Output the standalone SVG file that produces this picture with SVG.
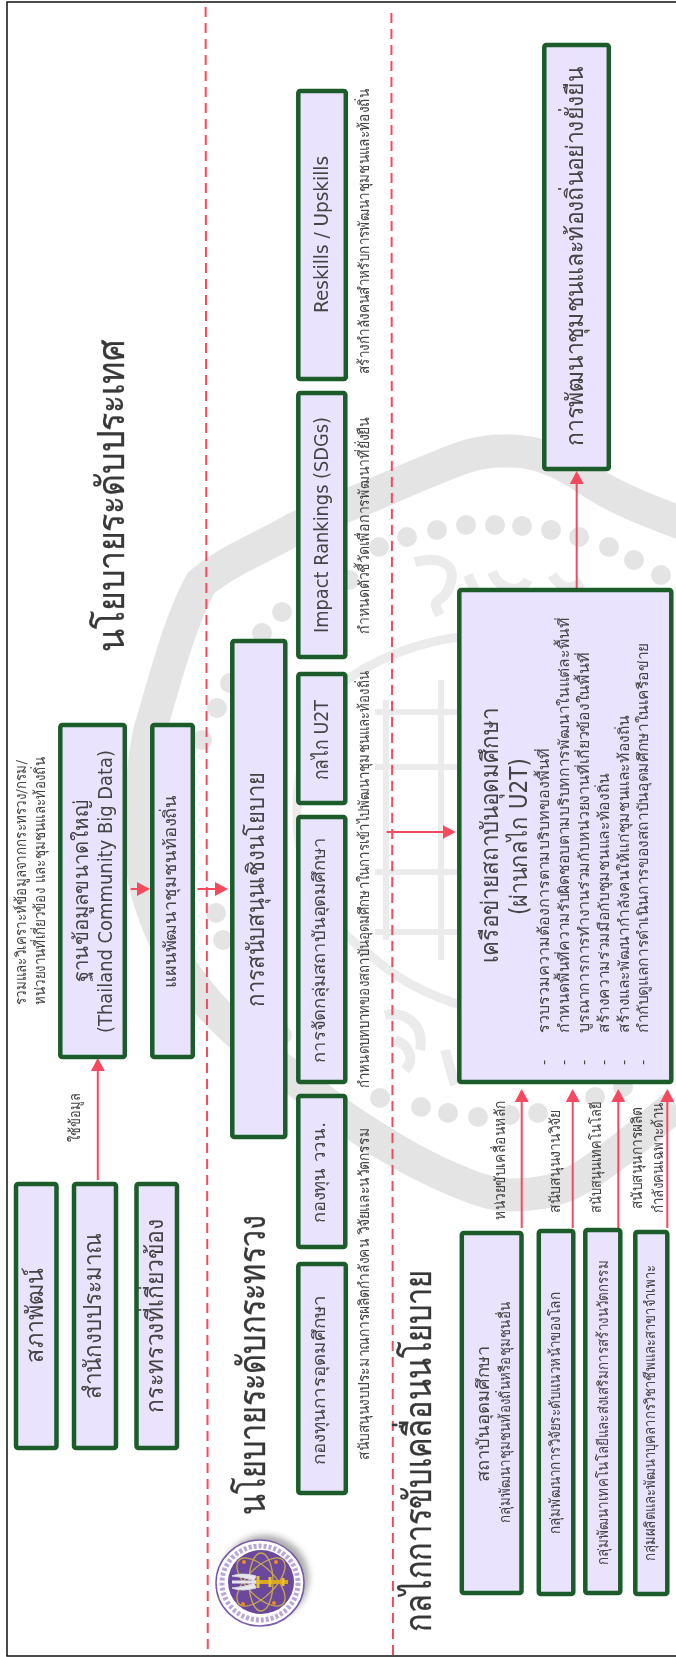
<svg xmlns="http://www.w3.org/2000/svg" width="676" height="1657" viewBox="0 0 676 1657">
<style>
text{font-family:"DejaVu Sans","Noto Sans","Liberation Sans",sans-serif;fill:#444}
.h{font-size:38px;fill:#383838;stroke:#383838;stroke-width:.3}.b{font-size:24px}.m{font-size:20px}.s{font-size:17px}.l{font-size:14.500px}
.box{fill:#e9e3fd;stroke:#1a5c2a;stroke-width:4.500}
.dash{stroke:#f64a5f;stroke-width:2;stroke-dasharray:10 6;fill:none}
.arr{stroke:#f64a5f;stroke-width:2;fill:none;marker-end:url(#ah)}
.wm{fill:none;stroke:#e4e4e4}
.wl{fill:none;stroke:#ebebeb}
.dot{fill:#e4e4e4}
</style>
<defs>
<marker id="ah" markerUnits="userSpaceOnUse" markerWidth="14" markerHeight="14" refX="11" refY="7" orient="auto"><path d="M0 0L13 7L0 14Z" fill="#f64a5f"/></marker>
<filter id="sh" x="-30%" y="-30%" width="160%" height="160%"><feGaussianBlur stdDeviation="3"/></filter>
<filter id="soft" x="0" y="0" width="100%" height="100%" filterUnits="userSpaceOnUse"><feGaussianBlur stdDeviation="0.400"/></filter>
</defs>
<rect width="676" height="1657" fill="#fff"/>
<g filter="url(#soft)">
<g id="watermark">
<path class="wm" stroke-width="33" d="M700 530C660 515 615 500 581 475C555 458 530 450 506 451C480 450 460 458 439 467C410 478 390 488 368 497C330 512 305 522 280 537C245 555 222 565 201 583C180 620 165 680 150 730C143 760 141 800 141 830C141 860 142 875 148 895C160 935 175 965 205 1000C240 1040 290 1075 345 1118C385 1145 410 1160 439 1173C470 1187 490 1195 510 1195C540 1195 560 1190 581 1178C610 1160 640 1135 676 1105"/>
<g class="dot">
<circle cx="661" cy="575" r="10"/><circle cx="634" cy="560" r="10"/><circle cx="609" cy="547" r="10"/><circle cx="579" cy="537" r="10"/><circle cx="551" cy="530" r="10"/><circle cx="522" cy="526" r="10"/><circle cx="495" cy="525" r="10"/><circle cx="466" cy="525" r="10"/><circle cx="437" cy="530" r="10"/><circle cx="407" cy="537" r="10"/><circle cx="379" cy="547" r="10"/><circle cx="349" cy="580" r="10"/><circle cx="311" cy="600" r="10"/><circle cx="282" cy="612" r="10"/><circle cx="262" cy="633" r="10"/><circle cx="230" cy="683" r="10"/><circle cx="217" cy="708" r="10"/><circle cx="202" cy="740" r="10"/><circle cx="216" cy="913" r="10"/><circle cx="223" cy="940" r="10"/><circle cx="245" cy="990" r="10"/><circle cx="282" cy="1035" r="10"/><circle cx="380" cy="1098" r="10"/><circle cx="421" cy="1107" r="10"/><circle cx="448" cy="1113" r="10"/><circle cx="478" cy="1117" r="10"/><circle cx="510" cy="1115" r="10"/><circle cx="538" cy="1113" r="10"/><circle cx="595" cy="1097" r="10"/><circle cx="623" cy="1087" r="10"/>
</g>
<path class="wl" stroke-width="9" d="M470 636C420 640 370 660 333 690C305 725 290 790 300 850C312 900 335 930 368 953C395 978 425 995 470 1008"/>
<path class="wl" stroke-width="6" d="M441 680V960M386 700V940M375 712H470M375 767H470M375 872H470M375 932H470"/>
<path class="wl" stroke-width="10" d="M415 562C440 555 458 565 450 585C445 605 428 595 440 615M468 575L490 625M492 572C500 590 520 595 528 580M552 575C562 590 572 590 582 582M385 1015C405 1010 425 1025 420 1050M395 1040C410 1045 415 1060 405 1070M445 1050L455 1085"/>
</g>
<rect id="frame" x="7" y="2" width="680" height="1654" fill="none" stroke="#111" stroke-width="1.500"/>
<g id="separators">
<line class="dash" x1="205.600" y1="7" x2="207.800" y2="1650"/>
<line class="dash" x1="391.400" y1="13" x2="393" y2="1656"/>
</g>
<g id="connectors">
<line class="arr" x1="576.700" y1="588" x2="576.700" y2="473"/>
<line class="arr" x1="386.600" y1="832" x2="453.600" y2="832"/>
<line class="arr" x1="97.800" y1="1180" x2="97.800" y2="1060"/>
<line class="arr" x1="130.600" y1="889" x2="148" y2="889"/>
<line class="arr" x1="197.400" y1="889" x2="226" y2="889"/>
<line class="arr" x1="521.700" y1="1228" x2="521.700" y2="1091"/>
<line class="arr" x1="572.700" y1="1228" x2="572.700" y2="1091"/>
<line class="arr" x1="618.300" y1="1228" x2="618.300" y2="1091"/>
<line class="arr" x1="667.300" y1="1228" x2="667.300" y2="1091"/>
</g>
<g id="titles">
<text class="h" transform="translate(124,652) rotate(-90)" textLength="312" lengthAdjust="spacingAndGlyphs">นโยบายระดับประเทศ</text>
<text class="h" transform="translate(265,1515) rotate(-90)" textLength="300" lengthAdjust="spacingAndGlyphs">นโยบายระดับกระทรวง</text>
<text class="h" transform="translate(431,1632) rotate(-90)" textLength="362" lengthAdjust="spacingAndGlyphs">กลไกการขับเคลื่อนนโยบาย</text>
</g>
<g id="n-sapha"><rect class="box" x="16" y="1184" width="40.500" height="264" rx="2"/><text class="b" transform="translate(43,1363) rotate(-90)" textLength="95" lengthAdjust="spacingAndGlyphs">สภาพัฒน์</text></g>
<g id="n-budget"><rect class="box" x="74" y="1184" width="42" height="264" rx="2"/><text class="b" transform="translate(101,1399) rotate(-90)" textLength="166" lengthAdjust="spacingAndGlyphs">สำนักงบประมาณ</text></g>
<g id="n-ministry"><rect class="box" x="136.500" y="1184" width="40.500" height="264" rx="2"/><text class="b" transform="translate(163,1413) rotate(-90)" textLength="194" lengthAdjust="spacingAndGlyphs">กระทรวงที่เกี่ยวข้อง</text></g>
<g id="n-bigdata"><rect class="box" x="60.300" y="725" width="64.500" height="332" rx="2"/>
<text class="m" transform="translate(88,982) rotate(-90)" textLength="182" lengthAdjust="spacingAndGlyphs">ฐานข้อมูลขนาดใหญ่</text>
<text class="m" transform="translate(112,1033) rotate(-90)" textLength="283" lengthAdjust="spacingAndGlyphs">(Thailand Community Big Data)</text></g>
<g id="n-plan"><rect class="box" x="152.300" y="725" width="40.500" height="332" rx="2"/><text class="s" transform="translate(176,988) rotate(-90)" textLength="193" lengthAdjust="spacingAndGlyphs">แผนพัฒนาชุมชนท้องถิ่น</text></g>
<g id="n-support"><rect class="box" x="232.300" y="641" width="53" height="496" rx="2"/><text class="b" transform="translate(264,1007) rotate(-90)" textLength="235" lengthAdjust="spacingAndGlyphs">การสนับสนุนเชิงนโยบาย</text></g>
<g id="n-reskill"><rect class="box" x="298.300" y="91" width="47.500" height="288" rx="2"/><text class="m" transform="translate(327.600,313) rotate(-90)" textLength="157" lengthAdjust="spacingAndGlyphs">Reskills / Upskills</text></g>
<g id="n-impact"><rect class="box" x="298.300" y="393" width="47" height="264" rx="2"/><text class="m" transform="translate(327.600,633) rotate(-90)" textLength="216" lengthAdjust="spacingAndGlyphs">Impact Rankings (SDGs)</text></g>
<g id="n-u2t"><rect class="box" x="298.300" y="674" width="47" height="129" rx="2"/><text class="m" transform="translate(327.600,780) rotate(-90)" textLength="80" lengthAdjust="spacingAndGlyphs">กลไก U2T</text></g>
<g id="n-group"><rect class="box" x="298.300" y="817" width="47" height="265" rx="2"/><text class="s" transform="translate(325,1063) rotate(-90)" textLength="226" lengthAdjust="spacingAndGlyphs">การจัดกลุ่มสถาบันอุดมศึกษา</text></g>
<g id="n-wor"><rect class="box" x="298.300" y="1096" width="47" height="151" rx="2"/><text class="s" transform="translate(325,1223) rotate(-90)" textLength="101" lengthAdjust="spacingAndGlyphs">กองทุน ววน.</text></g>
<g id="n-fund"><rect class="box" x="298.300" y="1264" width="47.500" height="229" rx="2"/><text class="s" transform="translate(325,1465) rotate(-90)" textLength="170" lengthAdjust="spacingAndGlyphs">กองทุนการอุดมศึกษา</text></g>
<g id="descriptions">
<text class="l" transform="translate(26,1005) rotate(-90)" textLength="245" lengthAdjust="spacingAndGlyphs">รวมและวิเคราะห์ข้อมูลจากกระทรวง/กรม/</text>
<text class="l" transform="translate(45,1005) rotate(-90)" textLength="248" lengthAdjust="spacingAndGlyphs">หน่วยงานที่เกี่ยวข้อง และชุมชนและท้องถิ่น</text>
<text class="l" transform="translate(80,1142) rotate(-90)" textLength="49" lengthAdjust="spacingAndGlyphs">ใช้ข้อมูล</text>
<text class="l" transform="translate(368.500,374) rotate(-90)" textLength="285" lengthAdjust="spacingAndGlyphs">สร้างกำลังคนสำหรับการพัฒนาชุมชนและท้องถิ่น</text>
<text class="l" transform="translate(368.500,634) rotate(-90)" textLength="217" lengthAdjust="spacingAndGlyphs">กำหนดตัวชี้วัดเพื่อการพัฒนาที่ยั่งยืน</text>
<text class="l" transform="translate(368.500,1088) rotate(-90)" textLength="417" lengthAdjust="spacingAndGlyphs">กำหนดบทบาทของสถาบันอุดมศึกษาในการเข้าไปพัฒนาชุมชนและท้องถิ่น</text>
<text class="l" transform="translate(368.500,1460) rotate(-90)" textLength="332" lengthAdjust="spacingAndGlyphs">สนับสนุนงบประมาณการผลิตกำลังคน วิจัยและนวัตกรรม</text>
<text class="l" transform="translate(505,1220) rotate(-90)" textLength="120" lengthAdjust="spacingAndGlyphs">หน่วยขับเคลื่อนหลัก</text>
<text class="l" transform="translate(559.500,1213) rotate(-90)" textLength="103" lengthAdjust="spacingAndGlyphs">สนับสนุนงานวิจัย</text>
<text class="l" transform="translate(601,1213) rotate(-90)" textLength="111" lengthAdjust="spacingAndGlyphs">สนับสนุนเทคโนโลยี</text>
<text class="l" transform="translate(642,1209) rotate(-90)" textLength="102" lengthAdjust="spacingAndGlyphs">สนับสนุนการผลิต</text>
<text class="l" transform="translate(663,1213) rotate(-90)" textLength="110" lengthAdjust="spacingAndGlyphs">กำลังคนเฉพาะด้าน</text>
</g>
<g id="n-goal"><rect class="box" x="544.300" y="45" width="64.500" height="424" rx="2"/><text class="b" transform="translate(583,446) rotate(-90)" textLength="379" lengthAdjust="spacingAndGlyphs">การพัฒนาชุมชนและท้องถิ่นอย่างยั่งยืน</text></g>
<g id="n-network"><rect class="box" x="459.300" y="590" width="212" height="492" rx="2"/>
<text class="b" transform="translate(498,963) rotate(-90)" textLength="255" lengthAdjust="spacingAndGlyphs">เครือข่ายสถาบันอุดมศึกษา</text>
<text class="b" transform="translate(527,915) rotate(-90)" textLength="157" lengthAdjust="spacingAndGlyphs">(ผ่านกลไก U2T)</text>
<g class="l">
<text class="l" transform="translate(549,1065) rotate(-90)">-</text><text class="l" transform="translate(568.500,1065) rotate(-90)">-</text><text class="l" transform="translate(589,1065) rotate(-90)">-</text><text class="l" transform="translate(608.500,1065) rotate(-90)">-</text><text class="l" transform="translate(629,1065) rotate(-90)">-</text><text class="l" transform="translate(648,1065) rotate(-90)">-</text>
<text class="l" transform="translate(549,1033) rotate(-90)" textLength="285" lengthAdjust="spacingAndGlyphs">รวบรวมความต้องการตามบริบทของพื้นที่</text>
<text class="l" transform="translate(568.500,1033) rotate(-90)" textLength="416" lengthAdjust="spacingAndGlyphs">กำหนดพื้นที่ความรับผิดชอบตามบริบทการพัฒนาในแต่ละพื้นที่</text>
<text class="l" transform="translate(589,1033) rotate(-90)" textLength="381" lengthAdjust="spacingAndGlyphs">บูรณาการการทำงานร่วมกับหน่วยงานที่เกี่ยวข้องในพื้นที่</text>
<text class="l" transform="translate(608.500,1033) rotate(-90)" textLength="260" lengthAdjust="spacingAndGlyphs">สร้างความร่วมมือกับชุมชนและท้องถิ่น</text>
<text class="l" transform="translate(629,1033) rotate(-90)" textLength="318" lengthAdjust="spacingAndGlyphs">สร้างและพัฒนากำลังคนให้แก่ชุมชนและท้องถิ่น</text>
<text class="l" transform="translate(648,1033) rotate(-90)" textLength="390" lengthAdjust="spacingAndGlyphs">กำกับดูแลการดำเนินการของสถาบันอุดมศึกษาในเครือข่าย</text>
</g></g>
<g id="n-area"><rect class="box" x="461.800" y="1233" width="59.700" height="360" rx="2"/>
<text class="s" transform="translate(489,1482) rotate(-90)" textLength="137" lengthAdjust="spacingAndGlyphs">สถาบันอุดมศึกษา</text>
<text class="l" transform="translate(509.500,1523) rotate(-90)" textLength="221" lengthAdjust="spacingAndGlyphs">กลุ่มพัฒนาชุมชนท้องถิ่นหรือชุมชนอื่น</text></g>
<g id="n-research"><rect class="box" x="538.800" y="1231" width="34.500" height="363" rx="2"/><text class="l" transform="translate(560,1534) rotate(-90)" textLength="242" lengthAdjust="spacingAndGlyphs">กลุ่มพัฒนาการวิจัยระดับแนวหน้าของโลก</text></g>
<g id="n-tech"><rect class="box" x="585.300" y="1230" width="35" height="363" rx="2"/><text class="l" transform="translate(608,1565) rotate(-90)" textLength="305" lengthAdjust="spacingAndGlyphs">กลุ่มพัฒนาเทคโนโลยีและส่งเสริมการสร้างนวัตกรรม</text></g>
<g id="n-prof"><rect class="box" x="635.300" y="1232" width="32" height="362" rx="2"/><text class="l" transform="translate(655,1561) rotate(-90)" textLength="296" lengthAdjust="spacingAndGlyphs">กลุ่มผลิตและพัฒนาบุคลากรวิชาชีพและสาขาจำเพาะ</text></g>
<g id="logo">
<ellipse cx="265" cy="1578" rx="44" ry="43" fill="#777" opacity=".6" filter="url(#sh)"/>
<ellipse cx="260" cy="1583" rx="44" ry="43" fill="#fff" stroke="#7a5aa8" stroke-width="1.500"/>
<ellipse cx="260" cy="1583" rx="38" ry="37" fill="none" stroke="#b9a8d6" stroke-width="5" stroke-dasharray="3 2"/>
<ellipse cx="261" cy="1582" rx="33" ry="32" fill="#6a4a9c"/>
<g fill="none" stroke="#c9a94a" stroke-width="1.300">
<ellipse cx="261" cy="1582" rx="31" ry="14" transform="rotate(45 261 1582)"/>
<ellipse cx="261" cy="1582" rx="31" ry="14" transform="rotate(-45 261 1582)"/>
<ellipse cx="261" cy="1582" rx="12" ry="29"/>
</g>
<g fill="#f08a20"><circle cx="244" cy="1562" r="2"/><circle cx="276" cy="1562" r="2"/><circle cx="243" cy="1604" r="2"/><circle cx="274" cy="1603" r="2"/></g>
<path d="M255 1582H288" stroke="#d8a820" stroke-width="4"/>
<path d="M258 1576V1588M270 1577V1587M283 1578V1586" stroke="#e8c030" stroke-width="3"/>
<path d="M256 1582H232" stroke="#e6e6ee" stroke-width="3"/>
<path d="M256 1576C248 1574 240 1573 232 1576C240 1577 248 1578 254 1581ZM256 1588C248 1590 240 1591 232 1588C240 1587 248 1586 254 1583Z" fill="#e6e6ee" stroke="#d8d8e0" stroke-width="1"/>
</g>
</g>
</svg>
